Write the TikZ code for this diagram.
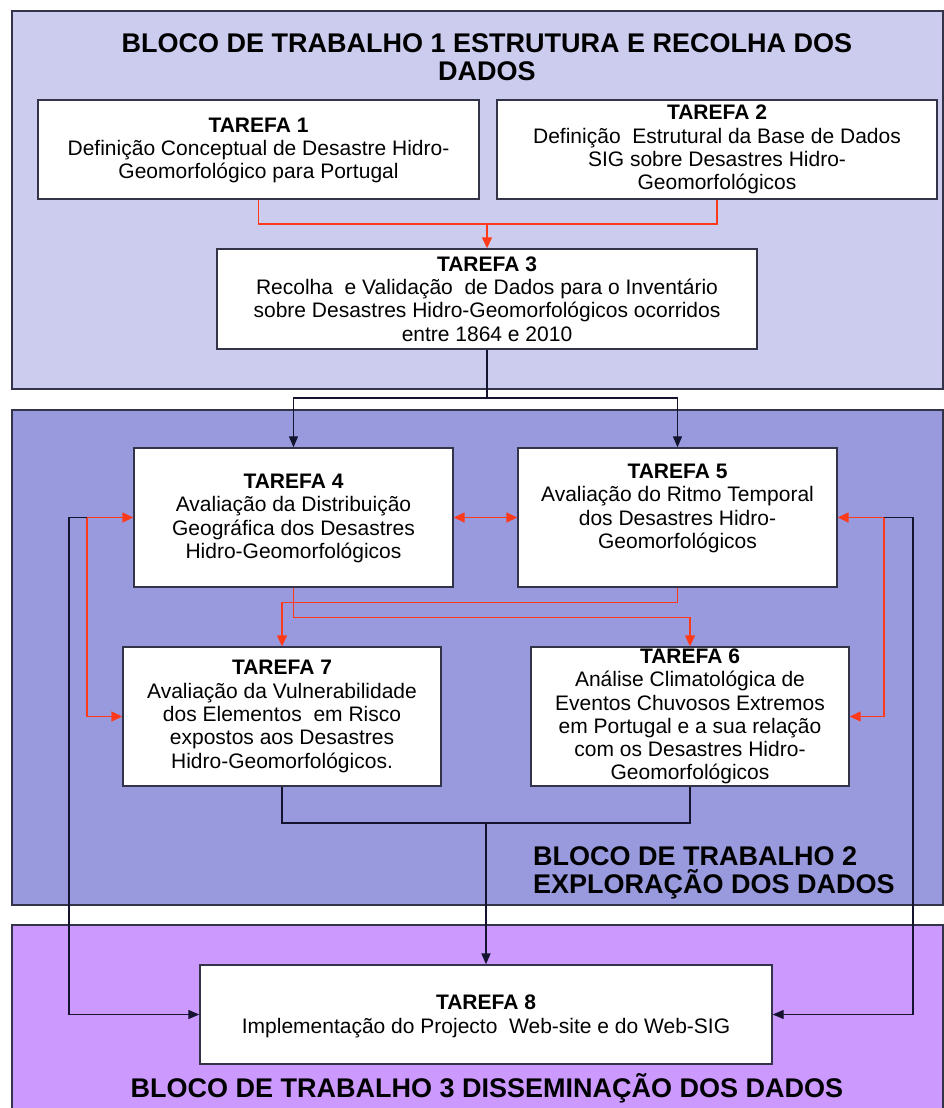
\documentclass[tikz,border=0pt]{standalone}
\usepackage{fontspec}
\setmainfont{Liberation Sans}
\usetikzlibrary{arrows.meta,calc}
\definecolor{bOne}{HTML}{CCCCEE}
\definecolor{bTwo}{HTML}{9999DD}
\definecolor{bThree}{HTML}{CC99FF}
\definecolor{edgec}{HTML}{33334A}
\definecolor{redc}{HTML}{FF3A1A}
\definecolor{darkc}{HTML}{14142E}
\begin{document}
\begin{tikzpicture}[x=1pt,y=-1pt,
  blockbox/.style={draw=edgec,line width=1.5pt},
  taskbox/.style={draw=edgec,fill=white,line width=1.4pt,inner sep=0pt},
  tasktext/.style={align=center,inner sep=0pt,font=\fontsize{21}{23.3}\selectfont},
  titletext/.style={inner sep=0pt,font=\fontsize{27}{28}\selectfont\bfseries},
  redline/.style={draw=redc,line width=1.4pt},
  redarrow/.style={redline,-{Triangle[length=11pt,width=10pt]}},
  redboth/.style={redline,{Triangle[length=11pt,width=10pt]}-{Triangle[length=11pt,width=10pt]}},
  darkline/.style={draw=darkc,line width=1.3pt},
  darkarrow/.style={darkline,-{Triangle[length=11pt,width=9pt]}}
]
\useasboundingbox (0,0) rectangle (944,1108);
\fill[white] (0,0) rectangle (944,1108);

% blocks
\path[blockbox,fill=bOne] (12,11) rectangle (943,389);
\path[blockbox,fill=bTwo] (12,410) rectangle (943,905);
\path[blockbox,fill=bThree] (12,925) rectangle (943,1115);

% titles
\node[titletext,align=center] (title1) at (487,57) {BLOCO DE TRABALHO 1 ESTRUTURA E RECOLHA DOS\\DADOS};
\node[titletext,align=left,anchor=north west] (title2) at (533,846) {BLOCO DE TRABALHO 2\\EXPLORAÇÃO DOS DADOS};
\node[titletext,anchor=center] (title3) at (487,1088) {BLOCO DE TRABALHO 3 DISSEMINAÇÃO DOS DADOS};

% task boxes
\node[taskbox,minimum width=441pt,minimum height=99pt] (t1) at (258.5,149.5) {};
\node[taskbox,minimum width=440pt,minimum height=99pt] (t2) at (717,149.5) {};
\node[taskbox,minimum width=540pt,minimum height=100pt] (t3) at (487,299) {};
\node[taskbox,minimum width=319pt,minimum height=139pt] (t4) at (293.5,517.5) {};
\node[taskbox,minimum width=319pt,minimum height=139pt] (t5) at (677.5,517.5) {};
\node[taskbox,minimum width=318pt,minimum height=139pt] (t7) at (282,716.5) {};
\node[taskbox,minimum width=318pt,minimum height=139pt] (t6) at (690,716.5) {};
\node[taskbox,minimum width=572pt,minimum height=99pt] (t8) at (486,1014.5) {};

% task texts
\node[tasktext] (x1) at ($(t1.center)+(0,1)$) {\textbf{TAREFA 1}\\Definição Conceptual de Desastre Hidro-\\Geomorfológico para Portugal};
\node[tasktext] (x2) at (t2.center) {\textbf{TAREFA 2}\\Definição\ \ Estrutural da Base de Dados\\SIG sobre Desastres Hidro-\\Geomorfológicos};
\node[tasktext] (x3) at (t3.center) {\textbf{TAREFA 3}\\Recolha\ \ e Validação\ \ de Dados para o Inventário\\sobre Desastres Hidro-Geomorfológicos ocorridos\\entre 1864 e 2010};
\node[tasktext] (x4) at ($(t4.center)+(0,1)$) {\textbf{TAREFA 4}\\Avaliação da Distribuição\\Geográfica dos Desastres\\Hidro-Geomorfológicos};
\node[tasktext] (x5) at ($(t5.center)+(0,-9)$) {\textbf{TAREFA 5}\\Avaliação do Ritmo Temporal\\dos Desastres Hidro-\\Geomorfológicos};
\node[tasktext] (x7) at (t7.center) {\textbf{TAREFA 7}\\Avaliação da Vulnerabilidade\\dos Elementos\ \ em Risco\\expostos aos Desastres\\Hidro-Geomorfológicos.};
\node[tasktext] (x6) at (t6.center) {\textbf{TAREFA 6}\\Análise Climatológica de\\Eventos Chuvosos Extremos\\em Portugal e a sua relação\\com os Desastres Hidro-\\Geomorfológicos};
\node[tasktext] (x8) at ($(t8.center)+(0,2)$) {\textbf{TAREFA 8}\\Implementação do Projecto\ \ Web-site e do Web-SIG};

% junction coordinates
\coordinate (j1) at (487,224);
\coordinate (j2) at (487,398);
\coordinate (j3) at (486,823);
\coordinate (rl) at (87,517.5);
\coordinate (rr) at (884,517.5);
\coordinate (bl) at (69,517.5);
\coordinate (br) at (913,517.5);

% block 1 connectors
\draw[redline] (t1.south) |- (j1) -| (t2.south);
\draw[redarrow] (j1) -- (t3.north);
\draw[darkline] (t3.south) -- (j2);
\draw[darkarrow] (j2) -| (t4.north);
\draw[darkarrow] (j2) -| (t5.north);

% block 2 connectors
\draw[redboth] (t4.east) -- (t5.west);
\draw[redarrow] (t4.south) -- ++(0,30) -| (t6.north);
\draw[redarrow] (t5.south) -- ++(0,15) -| (t7.north);
\draw[redboth] (t4.west) -- (rl) |- (t7.west);
\draw[redboth] (t5.east) -- (rr) |- (t6.east);
\draw[darkarrow] (rl) -- (bl) |- (t8.west);
\draw[darkarrow] (rr) -- (br) |- (t8.east);
\draw[darkline] (t7.south) |- (j3) -| (t6.south);
\draw[darkarrow,line width=1.8pt] (j3) -- (t8.north);
\end{tikzpicture}
\end{document}
